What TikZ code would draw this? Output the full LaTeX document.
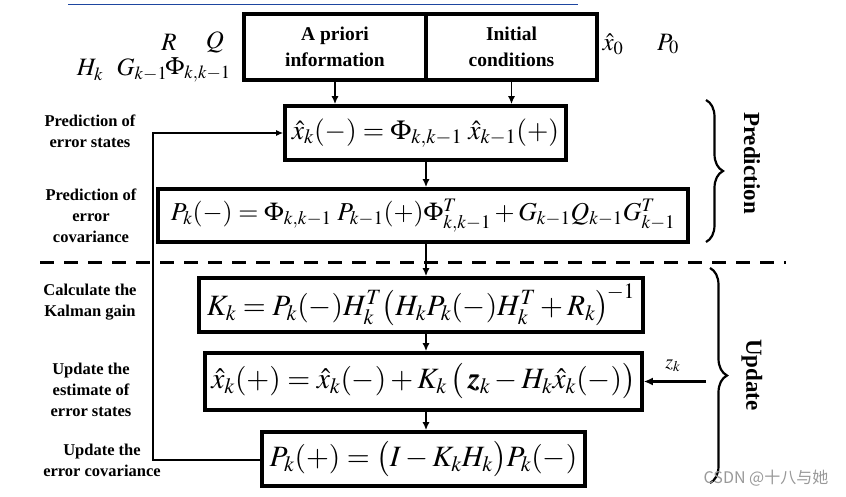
\documentclass[tikz,border=0pt]{standalone}
\usepackage{mathptmx}
\usepackage{amsmath,bm}
\usepackage[no-math]{fontspec}
\setmainfont{Liberation Serif}
\newfontfamily\cjk{Noto Sans CJK SC}
\usetikzlibrary{decorations.pathreplacing,arrows.meta}
\tikzset{
  box/.style={draw, line width=3.6pt, inner sep=0pt, align=center},
  toptext/.style={font=\fontsize{19.5}{26}\selectfont\bfseries, align=center},
  eq/.style={font=\fontsize{27.5}{32}\selectfont},
  eqb/.style={font=\fontsize{29.5}{33}\selectfont},
  lbl/.style={font=\fontsize{16.5}{21}\selectfont\bfseries, align=center},
  sym/.style={font=\fontsize{25}{30}\selectfont, inner sep=0pt},
  flow/.style={line width=1.8pt, -{Latex[length=8pt,width=7pt]}},
  loop/.style={line width=1.2pt},
  brc/.style={decorate, decoration={brace, amplitude=17pt, aspect=0.5}, line width=2.2pt},
  phase/.style={font=\fontsize{23}{26}\selectfont\bfseries, rotate=-90}
}
\begin{document}
\begin{tikzpicture}[x=1pt,y=-1pt]
\useasboundingbox (0,0) rectangle (846,496);
% blue rule
\draw[line width=1pt, color={rgb,255:red,30;green,70;blue,160}] (68,4) -- (578,4);

% top boxes
\node[box, minimum width=182pt, minimum height=66pt] (apr) at (335,47) {};
\node[box, minimum width=171pt, minimum height=66pt] (ini) at (511.5,47) {};
\node[toptext] (aprt) at (335,47) {A priori\\information};
\node[toptext] (init) at (511.5,47) {Initial\\conditions};

% symbols
\node[sym] (R) at (169,42) {$R$};
\node[sym] (Q) at (215,42) {$Q$};
\node[sym] (H) at (90,70) {$H_k$};
\node[sym] (G) at (142,70) {$G_{k-1}$};
\node[sym] (Phi) at (198,70) {$\Phi_{k,k-1}$};
\node[sym] (x0) at (613,44) {$\hat{x}_0$};
\node[sym] (P0) at (668,44) {$P_0$};

% equation boxes
\node[box, eq, minimum width=281pt, minimum height=54pt] (b1) at (425.5,133)
  {$\hat{x}_k(-)=\Phi_{k,k-1}\;\hat{x}_{k-1}(+)$};
\node[box, font=\fontsize{25.8}{30}\selectfont, minimum width=530pt, minimum height=53pt] (b2) at (423,215.5)
  {$P_k(-)=\Phi_{k,k-1}\;P_{k-1}(+)\Phi^T_{k,k-1}+G_{k-1}Q_{k-1}G^T_{k-1}$};
\node[box, eqb, minimum width=444pt, minimum height=54pt] (b3) at (421,305)
  {$K_k=P_k(-)H_k^T\bigl(H_kP_k(-)H_k^T+R_k\bigr)^{\!-1}$};
\node[box, eqb, minimum width=437pt, minimum height=57pt] (b4) at (423.5,381.5)
  {$\hat{x}_k(+)=\hat{x}_k(-)+K_k\,\bigl(\,\bm{z}_k-H_k\hat{x}_k(-)\bigr)$};
\node[box, eqb, minimum width=323pt, minimum height=54pt] (b5) at (423.5,459)
  {$P_k(+)=\bigl(I-K_kH_k\bigr)P_k(-)$};

% flow arrows
\draw[flow] (apr.south) -- (apr.south |- b1.north);
\draw[flow] (ini.south) -- (ini.south |- b1.north);
\draw[flow] (b1.south -| 426,0) -- (426,0 |- b2.north);
\draw[flow] (426,0 |- b2.south) -- (426,0 |- b3.north);
\draw[flow] (426,0 |- b3.south) -- (426,0 |- b4.north);
\draw[flow] (426,0 |- b4.south) -- (426,0 |- b5.north);

% measurement input
\coordinate (zin) at (706,381.5);
\draw[line width=2.6pt, -{Latex[length=9pt,width=8pt]}] (zin) -- (b4.east |- zin);
\node[font=\fontsize{20}{24}\selectfont, inner sep=0pt] (zl) at (673,366) {$z_k$};

% feedback loop
\coordinate (lb) at (153,460);
\coordinate (lt) at (153,133);
\draw[loop, -{Latex[length=7pt,width=6pt]}] (b5.west |- lb) -- (lb) -- (lt) -- (b1.west |- lt);

% dashed separator
\draw[line width=3pt, dash pattern=on 14pt off 10pt] (40,262) -- (786,262);

% left labels
\node[lbl] (l1) at (90,131) {Prediction of\\error states};
\node[lbl] (l2) at (91,216) {Prediction of\\error\\covariance};
\node[lbl] (l3) at (90,302) {Calculate the\\Kalman gain};
\node[lbl] (l4) at (91,390) {Update the\\estimate of\\error states};
\node[lbl] (l5) at (102,460) {Update the\\error covariance};

% braces
\draw[brc] (706,100) -- (706,242);
\draw[brc] (710,268) -- (710,483);
\node[phase] (pred) at (752,163) {Prediction};
\node[phase] (upd) at (752,375) {Update};

% watermark
\node[font=\cjk\fontsize{16}{18}\selectfont, text=black!40] (wm) at (766,478) {CSDN @十八与她};
\end{tikzpicture}
\end{document}
